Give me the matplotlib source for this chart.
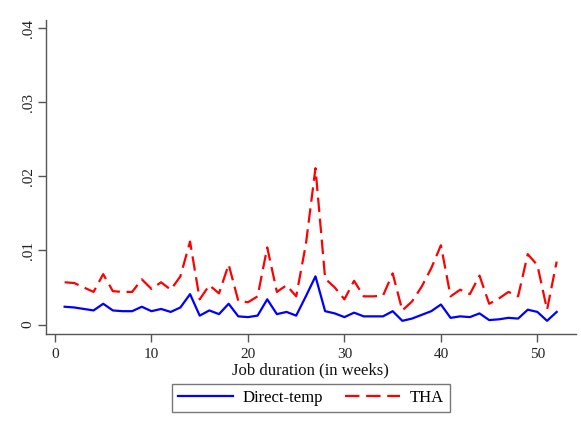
import matplotlib
matplotlib.use("Agg")
import matplotlib.pyplot as plt
from matplotlib.ticker import FuncFormatter

# job duration in weeks
weeks = list(range(1, 53))

# share of jobs ending at each duration
direct_temp = [
    0.0024, 0.0023, 0.0021, 0.0019, 0.0028, 0.0019, 0.0018, 0.0018, 0.0024, 0.0018,
    0.0021, 0.0017, 0.0023, 0.0041, 0.0012, 0.0019, 0.0014, 0.0028, 0.0011, 0.0010,
    0.0012, 0.0034, 0.0014, 0.0017, 0.0012, 0.0038, 0.0065, 0.0018, 0.0015, 0.0010,
    0.0016, 0.0011, 0.0011, 0.0011, 0.0018, 0.0005, 0.0008, 0.0013, 0.0018, 0.0027,
    0.0009, 0.0011, 0.0010, 0.0015, 0.0006, 0.0007, 0.0009, 0.0008, 0.0020, 0.0017,
    0.0005, 0.0017,
]
tha = [
    0.0057, 0.0056, 0.0050, 0.0044, 0.0068, 0.0045, 0.0044, 0.0044, 0.0061, 0.0048,
    0.0057, 0.0047, 0.0065, 0.0112, 0.0034, 0.0053, 0.0042, 0.0081, 0.0032, 0.0030,
    0.0038, 0.0104, 0.0044, 0.0053, 0.0038, 0.0108, 0.0211, 0.0062, 0.0050, 0.0034,
    0.0059, 0.0038, 0.0038, 0.0039, 0.0069, 0.0019, 0.0031, 0.0051, 0.0076, 0.0107,
    0.0038, 0.0047, 0.0041, 0.0066, 0.0028, 0.0035, 0.0044, 0.0038, 0.0095, 0.0080,
    0.0020, 0.0085,
]

x_ticks = [0, 10, 20, 30, 40, 50]
y_ticks = [0, 0.01, 0.02, 0.03, 0.04]

plt.rcParams["font.family"] = ["Liberation Serif", "DejaVu Serif"]

W, H = 581, 429
fig = plt.figure(figsize=(W / 100, H / 100), dpi=100)
# plot region in pixels: left 45.7, right 576, top 20, bottom 334
ax = fig.add_axes([45.7 / W, 1 - 334 / H, (576 - 45.7) / W, (334 - 20) / H])

ax.plot(weeks, direct_temp, color="#0000ff", lw=1.6, label="Direct-temp")
ax.plot(weeks, tha, color="#ff0000", lw=1.6, dashes=(6.5, 3), label="THA")

ax.set_xlim(-0.96, 54.0)
ax.set_ylim(-0.00128, 0.0411)
ax.set_xticks(x_ticks)
ax.set_yticks(y_ticks)


def stata_fmt(v, _pos):
    if abs(v) < 1e-12:
        return "0"
    return f"{v:.2f}".lstrip("0")


ax.yaxis.set_major_formatter(FuncFormatter(stata_fmt))
for lab in ax.get_yticklabels():
    lab.set_rotation(90)
    lab.set_va("center")

for side in ("top", "right"):
    ax.spines[side].set_visible(False)
for side in ("left", "bottom"):
    ax.spines[side].set_color("#555555")
    ax.spines[side].set_linewidth(1.0)
ax.tick_params(axis="both", direction="out", length=6, width=1.0,
               color="#555555", labelsize=11, labelcolor="#222222")
ax.tick_params(axis="x", pad=4)
ax.tick_params(axis="y", pad=2)

ax.set_xlabel("Job duration (in weeks)", fontsize=12, color="#111111", labelpad=1)

leg = fig.legend(loc="center", bbox_to_anchor=(311 / W, 1 - 398 / H), ncol=2,
                 fontsize=12, frameon=True, fancybox=False, handlelength=3.3,
                 columnspacing=1.3, borderpad=0.35, handletextpad=0.6)
leg.get_frame().set_edgecolor("#555555")
leg.get_frame().set_linewidth(1.0)

fig.savefig("out.png", dpi=100)
